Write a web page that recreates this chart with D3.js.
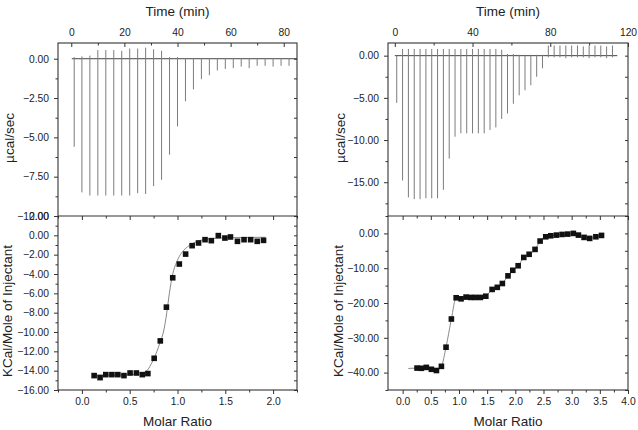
<!DOCTYPE html>
<html>
<head>
<meta charset="utf-8">
<script src="https://cdn.jsdelivr.net/npm/d3@7"></script>
<style>
  body { margin: 0; background: #fff; }
  svg { display: block; font-family: "Liberation Sans", Arial, sans-serif; }
</style>
</head>
<body>
<svg id="chart" width="638" height="430"></svg>
<script>
// ---- left run: raw thermogram (injection time in min, peak low / overshoot in µcal/sec)
const leftTimes = [1.1, 4, 7, 10, 13, 16, 19, 22, 25, 28, 31, 34, 37, 40, 43, 46, 49, 52, 55, 58, 61, 64, 67, 70, 73, 76, 79, 82];
const leftPeakMin = [-5.6, -8.5, -8.7, -8.7, -8.7, -8.7, -8.7, -8.7, -8.55, -8.6, -8.1, -7.7, -6.1, -4.3,
  -2.7, -1.95, -1.3, -1.05, -0.75, -0.65, -0.6, -0.5, -0.6, -0.45, -0.45, -0.5, -0.45, -0.45];
const leftPeakMax = [0.1, 0.15, 0.2, 0.55, 0.55, 0.55, 0.5, 0.65, 0.65, 0.7, 0.6, 0.5, 0.1, 0.1,
  0.05, 0.05, 0.05, 0.05, 0.05, 0.05, 0.05, 0.05, 0.05, 0.05, 0.05, 0.05, 0.05, 0.05];
const leftBaseline = [0.2, 85];

// ---- left run: integrated heats (molar ratio, kcal/mol)
const leftRatio = [0.128, 0.19, 0.25, 0.314, 0.376, 0.44, 0.504, 0.57, 0.632, 0.69, 0.756, 0.82, 0.884, 0.95,
  1.019, 1.085, 1.153, 1.22, 1.288, 1.354, 1.427, 1.496, 1.554, 1.627, 1.696, 1.765, 1.834, 1.9];
const leftHeat = [-14.51, -14.72, -14.41, -14.41, -14.41, -14.51, -14.24, -14.24, -14.41, -14.3, -12.72, -10.92, -7.43, -4.39,
  -2.97, -1.94, -1.07, -0.79, -0.45, -0.55, -0.03, -0.28, -0.17, -0.62, -0.45, -0.45, -0.62, -0.52];
const leftFitX = [0.12, 0.4, 0.6, 0.68, 0.74, 0.785, 0.82, 0.853, 0.888, 0.915, 0.95, 0.99, 1.03, 1.08, 1.13, 1.2, 1.3, 1.45, 1.7, 1.92];
const leftFitY = [-14.45, -14.45, -14.35, -14.0, -13.0, -12.0, -11.0, -10.0, -8.0, -6.0, -4.0, -2.8, -2.0, -1.4, -1.0, -0.65, -0.4, -0.28, -0.22, -0.2];

// ---- right run: raw thermogram
const rightTimes = [1, 4, 7, 10, 13, 16, 19, 22, 25, 28, 31, 34, 37, 40, 43, 46, 49, 52, 55,
  58, 61, 64, 67, 70, 73, 76, 79, 82, 85, 88, 91, 94, 97, 100, 103, 106, 109, 112];
const rightPeakMin = [-5.6, -14.8, -16.8, -17.0, -17.0, -16.9, -16.9, -16.9, -15.9, -12.2, -9.6, -9.2, -9.2, -9.2, -9.2, -9.2, -8.8, -8.5, -7.5,
  -6.85, -5.7, -4.7, -4.1, -3.5, -2.5, -1.5, -0.2, -0.2, -0.2, -0.3, -0.2, -0.2, -0.2, -0.3, -0.2, -0.2, -0.3, -0.2];
const rightPeakMax = [0, 0.8, 0.8, 0.8, 0.8, 0.8, 0.8, 0.8, 0.8, 0.8, 0.8, 0.8, 0.8, 0.8, 0.8, 0.8, 0.8, 0.8, 0.7,
  0.2, 0.2, 0.1, 0.1, 0.1, 0.1, 0.1, 1.2, 1.2, 1.2, 1.2, 1.2, 1.2, 1.1, 1.2, 1.2, 1.2, 1.1, 1.2];
const rightBaseline = [0, 114.5];

// ---- right run: integrated heats
const rightRatio = [0.255, 0.332, 0.42, 0.51, 0.60, 0.688, 0.77, 0.865, 0.95, 1.037, 1.126, 1.21, 1.29, 1.38, 1.476, 1.588, 1.68, 1.77,
  1.87, 1.955, 2.05, 2.15, 2.245, 2.35, 2.44, 2.54, 2.63, 2.73, 2.83, 2.93, 3.03, 3.12, 3.22, 3.32, 3.43, 3.53];
const rightHeat = [-38.7, -38.76, -38.5, -39.05, -39.4, -38.2, -32.7, -24.6, -18.5, -18.8, -18.3, -18.4, -18.4, -18.4, -18.05, -16.1, -15.5, -14.4,
  -12.2, -10.6, -9.3, -6.9, -6.0, -4.6, -2.2, -0.97, -0.68, -0.49, -0.3, -0.2, 0, -0.49, -1.15, -1.44, -0.97, -0.58];
const rightFitStart = [0.1, -38.8];

// ---- tick values
const leftTimeTicks = [0, 20, 40, 60, 80];
const leftPowerTicks = [0, -2.5, -5, -7.5, -10];
const leftHeatTicks = [2, 0, -2, -4, -6, -8, -10, -12, -14, -16];
const ratioTicksLeft = [0, 0.5, 1.0, 1.5, 2.0];
const rightTimeTicks = [0, 40, 80, 120];
const rightPowerTicks = [0, -5, -10, -15];
const rightHeatTicks = [0, -10, -20, -30, -40];
const ratioTicksRight = [0, 0.5, 1.0, 1.5, 2.0, 2.5, 3.0, 3.5, 4.0];

const svg = d3.select("#chart");
const top0 = 43, mid = 216, bot = 390;
const ink = "#333";

function styleAxis(g) {
  g.select(".domain").remove();
  g.selectAll(".tick line").attr("stroke", ink);
  g.selectAll("text").attr("fill", "#222").attr("font-size", "10.3px")
    .attr("font-family", '"Liberation Sans", Arial, sans-serif');
}

function drawPanel(cfg) {
  const {x0, x1, timeDomain, powerDomain, heatDomain, ratioDomain} = cfg;
  const xt = d3.scaleLinear().domain(timeDomain).range([x0, x1]);
  const yp = d3.scaleLinear().domain(powerDomain).range([mid, top0]);
  const xr = d3.scaleLinear().domain(ratioDomain).range([x0, x1]);
  const yh = d3.scaleLinear().domain(heatDomain).range([bot, mid]);
  const g = svg.append("g");

  // --- upper panel: raw power
  const baseline = d3.line().x(d => xt(d)).y(() => yp(0));
  g.append("path").attr("d", baseline(cfg.baseline))
    .attr("fill", "none").attr("stroke", "#444").attr("stroke-width", 1);
  g.selectAll(".spike").data(cfg.times).join("line")
    .attr("class", "spike")
    .attr("x1", d => xt(d)).attr("x2", d => xt(d))
    .attr("y1", (d, i) => yp(cfg.peakMax[i]))
    .attr("y2", (d, i) => yp(cfg.peakMin[i]))
    .attr("stroke", "#7c7c7c").attr("stroke-width", 1);

  // --- lower panel: integrated heats
  const fit = d3.line().x(d => xr(d[0])).y(d => yh(d[1])).curve(d3.curveMonotoneX);
  g.append("path").attr("d", fit(cfg.fit))
    .attr("fill", "none").attr("stroke", "#8a8a8a").attr("stroke-width", 1);
  const sq = 5.6;
  g.selectAll(".pt").data(cfg.ratio).join("rect")
    .attr("class", "pt")
    .attr("x", d => xr(d) - sq / 2)
    .attr("y", (d, i) => yh(cfg.heat[i]) - sq / 2)
    .attr("width", sq).attr("height", sq)
    .attr("fill", "#111");

  // --- axes, upper
  g.append("g").attr("transform", `translate(0,${top0})`)
    .call(d3.axisTop(xt).tickValues(cfg.timeTicks).tickSize(-4).tickPadding(7).tickFormat(d3.format("d")))
    .call(styleAxis);
  g.append("g").attr("transform", `translate(0,${top0})`)
    .call(d3.axisTop(xt).tickValues(cfg.timeMinor).tickSize(-2.5).tickFormat(""))
    .call(styleAxis);
  g.append("g").attr("transform", `translate(${x0},0)`)
    .call(d3.axisLeft(yp).tickValues(cfg.powerTicks).tickSize(4).tickPadding(5).tickFormat(d3.format(".2f")))
    .call(styleAxis);
  g.append("g").attr("transform", `translate(${x0},0)`)
    .call(d3.axisLeft(yp).tickValues(cfg.powerMinor).tickSize(2.5).tickFormat(""))
    .call(styleAxis);
  g.append("g").attr("transform", `translate(${x1},0)`)
    .call(d3.axisRight(yp).tickValues(cfg.powerTicks.concat(cfg.powerMinor)).tickSize(-3).tickFormat(""))
    .call(styleAxis);

  // --- axes, lower
  g.append("g").attr("transform", `translate(0,${bot})`)
    .call(d3.axisBottom(xr).tickValues(cfg.ratioTicks).tickSize(4).tickPadding(4).tickFormat(d3.format(".1f")))
    .call(styleAxis);
  g.append("g").attr("transform", `translate(0,${bot})`)
    .call(d3.axisBottom(xr).tickValues(cfg.ratioMinor).tickSize(2.5).tickFormat(""))
    .call(styleAxis);
  g.append("g").attr("transform", `translate(0,${mid})`)
    .call(d3.axisTop(xr).tickValues(cfg.ratioTicks).tickSize(-4).tickFormat(""))
    .call(styleAxis);
  g.append("g").attr("transform", `translate(0,${mid})`)
    .call(d3.axisTop(xr).tickValues(cfg.ratioMinor).tickSize(-2.5).tickFormat(""))
    .call(styleAxis);
  g.append("g").attr("transform", `translate(${x0},0)`)
    .call(d3.axisLeft(yh).tickValues(cfg.heatTicks).tickSize(4).tickPadding(5).tickFormat(d3.format(".2f")))
    .call(styleAxis);
  g.append("g").attr("transform", `translate(${x0},0)`)
    .call(d3.axisLeft(yh).tickValues(cfg.heatMinor).tickSize(2.5).tickFormat(""))
    .call(styleAxis);
  g.append("g").attr("transform", `translate(${x1},0)`)
    .call(d3.axisRight(yh).tickValues(cfg.heatTicks.concat(cfg.heatMinor)).tickSize(-3).tickFormat(""))
    .call(styleAxis);

  // --- frames
  g.append("rect").attr("x", x0).attr("y", top0).attr("width", x1 - x0).attr("height", bot - top0)
    .attr("fill", "none").attr("stroke", ink).attr("stroke-width", 1.1);
  g.append("line").attr("x1", x0).attr("x2", x1).attr("y1", mid).attr("y2", mid)
    .attr("stroke", ink).attr("stroke-width", 1.1);

  // --- titles
  const cx = (x0 + x1) / 2;
  const title = (sel) => sel.attr("fill", "#222").attr("font-size", "13.5px").attr("text-anchor", "middle");
  g.append("text").attr("x", cx).attr("y", 16).text("Time (min)").call(title);
  g.append("text").attr("x", cx).attr("y", 426).text("Molar Ratio").call(title);
  g.append("text").attr("transform", `translate(${cfg.powerLabelX},138) rotate(-90)`)
    .text("\u00b5cal/sec").call(title);
  g.append("text").attr("transform", `translate(${cfg.heatLabelX},311) rotate(-90)`)
    .text("KCal/Mole of Injectant").call(title);
}

drawPanel({
  x0: 58, x1: 297,
  timeDomain: [-5, 85], powerDomain: [-10, 1], heatDomain: [-16, 2], ratioDomain: [-0.25, 2.25],
  times: leftTimes, peakMin: leftPeakMin, peakMax: leftPeakMax, baseline: leftBaseline,
  ratio: leftRatio, heat: leftHeat, fit: leftFitX.map((x, i) => [x, leftFitY[i]]),
  timeTicks: leftTimeTicks, timeMinor: [10, 30, 50, 70],
  powerTicks: leftPowerTicks, powerMinor: [-1.25, -3.75, -6.25, -8.75],
  heatTicks: leftHeatTicks, heatMinor: [1, -1, -3, -5, -7, -9, -11, -13, -15],
  ratioTicks: ratioTicksLeft, ratioMinor: [-0.25, 0.25, 0.75, 1.25, 1.75, 2.25],
  powerLabelX: 14, heatLabelX: 12
});

drawPanel({
  x0: 388, x1: 628,
  timeDomain: [-3.5, 120], powerDomain: [-19, 1.5], heatDomain: [-45, 5], ratioDomain: [-0.26, 4.0],
  times: rightTimes, peakMin: rightPeakMin, peakMax: rightPeakMax, baseline: rightBaseline,
  ratio: rightRatio, heat: rightHeat,
  fit: [rightFitStart].concat(rightRatio.map((x, i) => [x, rightHeat[i]])),
  timeTicks: rightTimeTicks, timeMinor: [20, 60, 100],
  powerTicks: rightPowerTicks, powerMinor: [-2.5, -7.5, -12.5, -17.5],
  heatTicks: rightHeatTicks, heatMinor: [5, -5, -15, -25, -35, -45],
  ratioTicks: ratioTicksRight, ratioMinor: [0.25, 0.75, 1.25, 1.75, 2.25, 2.75, 3.25, 3.75],
  powerLabelX: 345, heatLabelX: 343
});
</script>
</body>
</html>
